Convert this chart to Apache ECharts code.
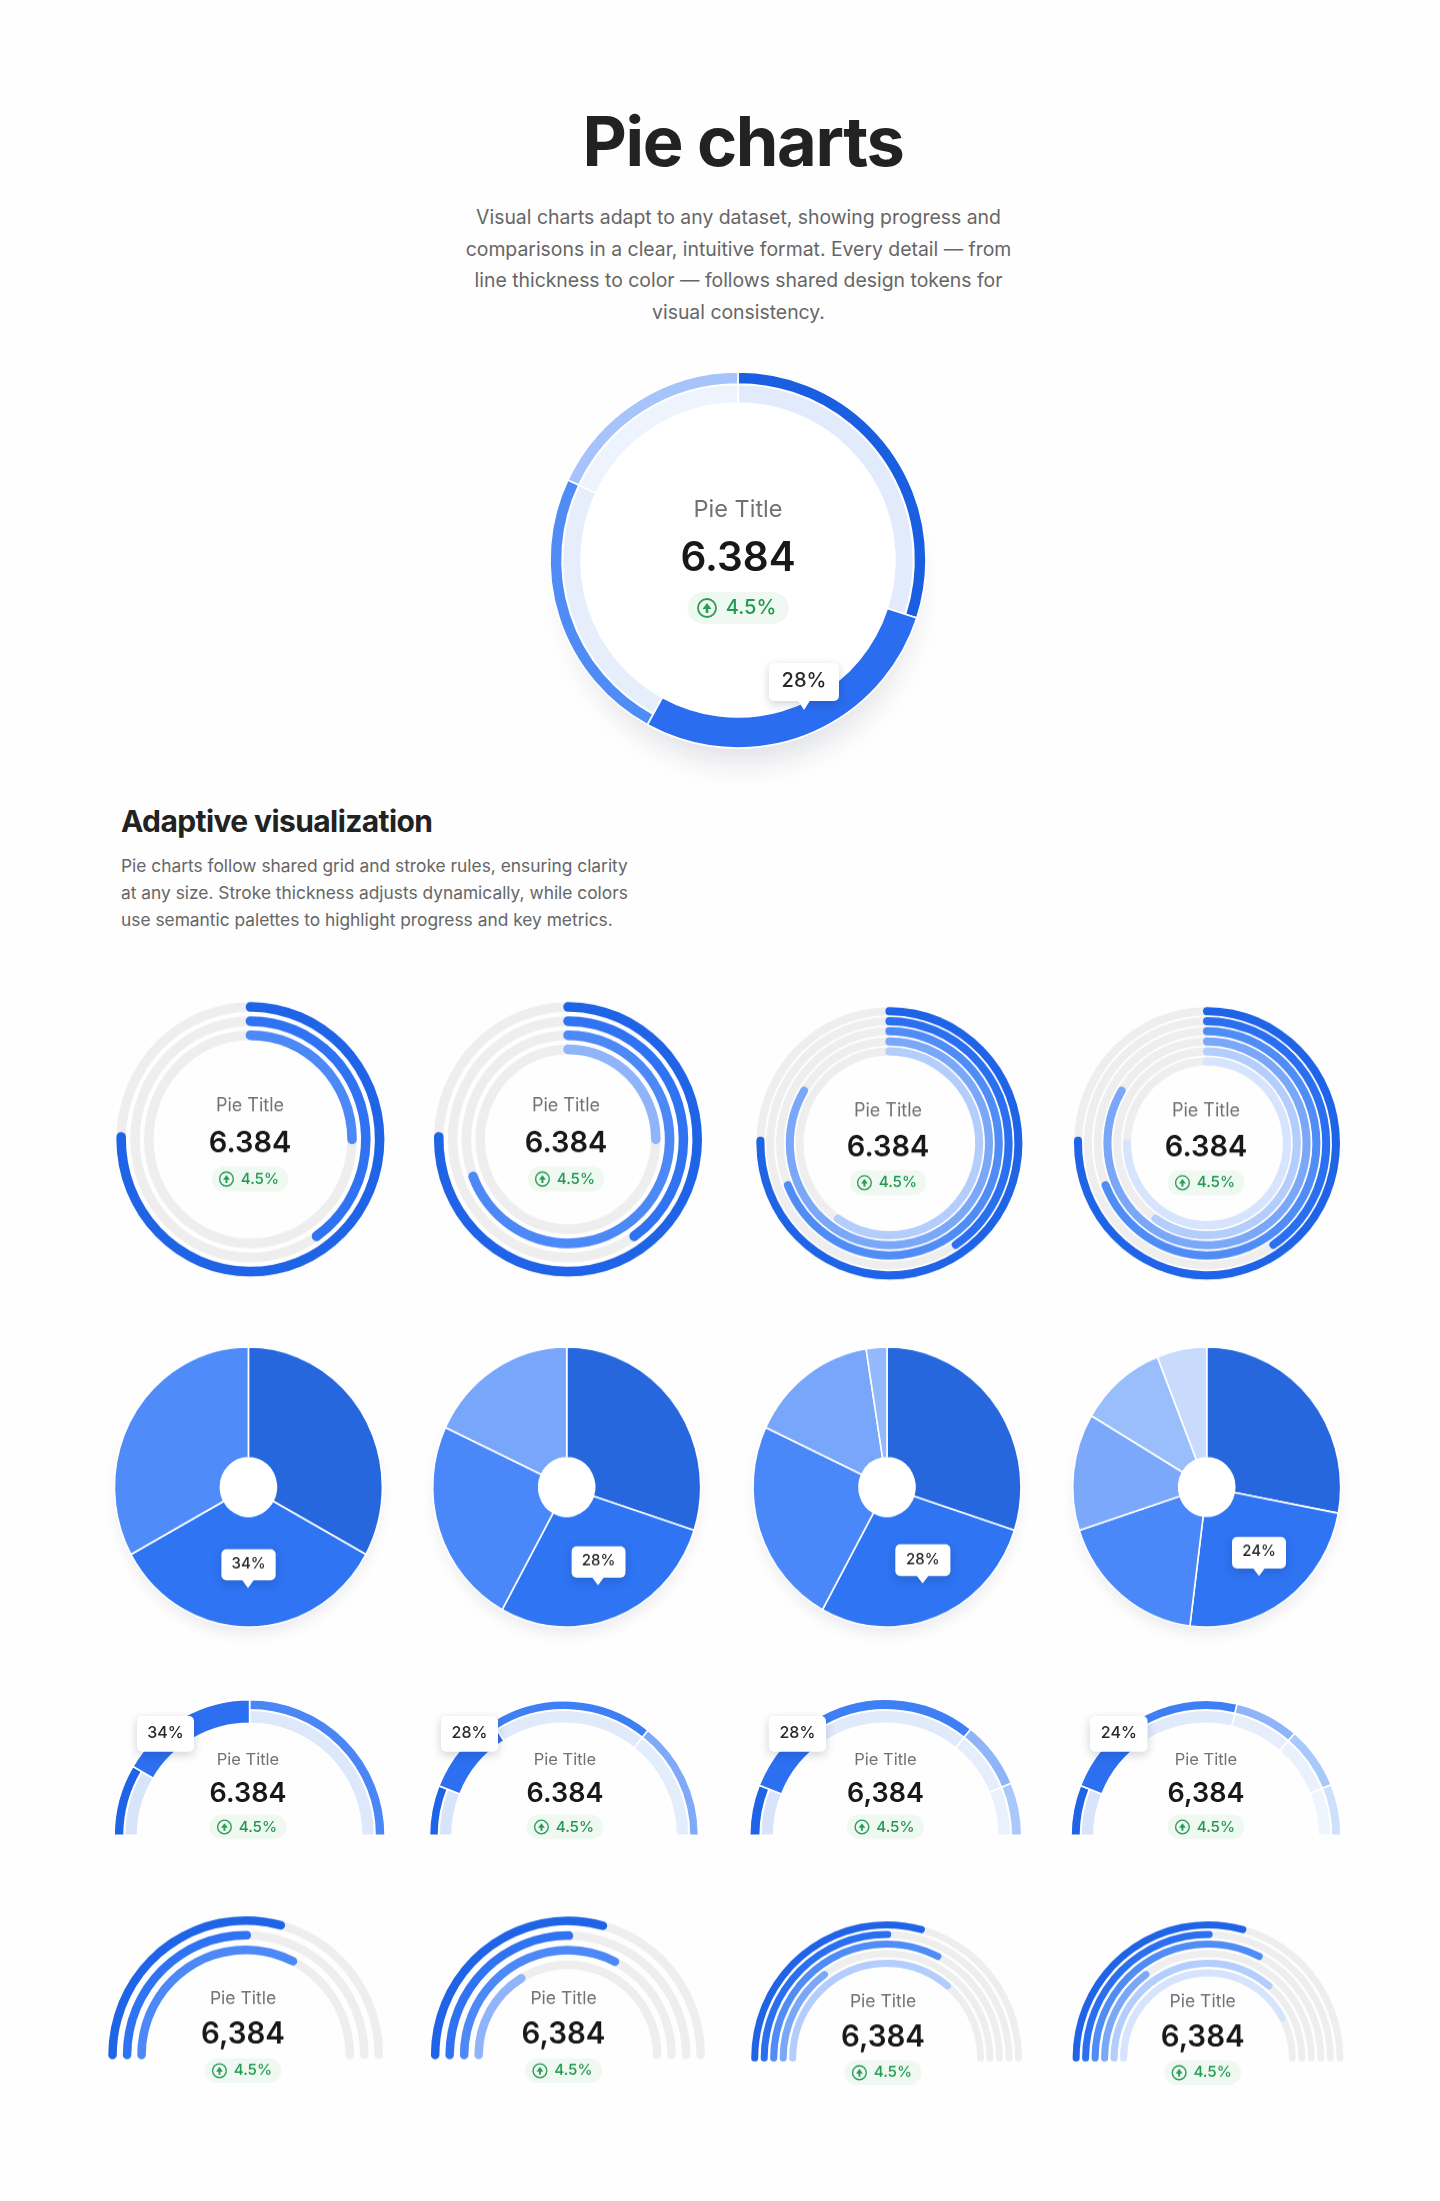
<!DOCTYPE html>
<html><head><meta charset="utf-8">
<script src="https://cdn.jsdelivr.net/npm/echarts@6/dist/echarts.min.js"></script>
<style>
html,body{margin:0;padding:0;background:#fefefe;}
body{width:1440px;height:2201px;position:relative;overflow:hidden;font-family:Inter,sans-serif;}
.t{position:absolute;white-space:nowrap;}
.row{position:absolute;left:0;width:1440px;}
</style></head><body>
<div class="t" style="left:0;width:1486px;text-align:center;top:100px;font-size:68.5px;font-weight:700;line-height:84px;color:#222;letter-spacing:-1.4px">Pie charts</div>
<div class="t" style="left:0;width:1477px;text-align:center;top:202px;font-size:19.4px;line-height:31.7px;color:#666">Visual charts adapt to any dataset, showing progress and<br>comparisons in a clear, intuitive format. Every detail — from<br>line thickness to color — follows shared design tokens for<br>visual consistency.</div>
<div class="t" style="left:121px;top:801px;font-size:30px;font-weight:700;line-height:40px;color:#222;letter-spacing:-.6px">Adaptive visualization</div>
<div class="t" style="left:121px;top:852px;font-size:17.35px;line-height:27px;color:#666">Pie charts follow shared grid and stroke rules, ensuring clarity<br>at any size. Stroke thickness adjusts dynamically, while colors<br>use semantic palettes to highlight progress and key metrics.</div>
<script>
// ---- data ----
const heroValues = [30, 28, 24, 18];
const heroColors = ['#1a5fe2', '#2a6df0', '#4f8cf6', '#a6c4fb'];
const heroPale = ['#e2ebfb', '#2a6df0', '#e6eefc', '#eef4fe'];

const ringColors3 = ['#1f63e6', '#2f73f2', '#4c88f6'];
const ringColors4 = ['#1f63e6', '#2f73f2', '#4c88f6', '#8fb4fa'];
const ringColors5 = ['#1f63e6', '#2a6ff0', '#4f8cf6', '#7ba7f9', '#b3cefc'];
const ringColors6 = ['#1f63e6', '#2a6ff0', '#4f8cf6', '#7ba7f9', '#b3cefc', '#d6e4fe'];
const ringValuesA = [75.3, 40.3, 25];
const ringValuesB = [75.3, 40.3, 69.2, 25];
const ringValuesC = [75.3, 40.6, 68.9, 83.6, 59.7];
const ringValuesD = [75.3, 40.6, 68.9, 83.6, 59.7, 75];

const pieValuesA = [33, 34, 33];
const pieValuesB = [30, 28, 24, 18];
const pieValuesC = [30, 28, 24, 15.5, 2.5];
const pieValuesD = [28, 24, 18, 13.5, 10.5, 6];
const pieColorsA = ['#2767dd', '#2e74f3', '#4f8cf9'];
const pieColorsB = ['#2767dd', '#2e74f3', '#4a87f8', '#78a6fb'];
const pieColorsC = ['#2767dd', '#2e74f3', '#4a87f8', '#78a6fb', '#93b9fc'];
const pieColorsD = ['#2767dd', '#2e74f3', '#4a87f8', '#7ba8fb', '#9abdfc', '#c8dbfd'];

const arcValuesA = [17, 33, 50];
const arcValuesB = [12, 20, 39.5, 28.5];
const arcValuesC = [12, 20, 39.5, 16, 12.5];
const arcValuesD = [12, 20, 25.4, 15.4, 15, 12.2];
const arcColorsA = ['#1f63e6', '#2c6ff0', '#4a86f5'];
const arcColorsB = ['#1f63e6', '#2c6ff0', '#3f7ff5', '#7faaf9'];
const arcColorsC = ['#1f63e6', '#2c6ff0', '#3f7ff5', '#8fb4fa', '#a9c8fb'];
const arcColorsD = ['#1f63e6', '#2c6ff0', '#3f7ff5', '#8fb4fa', '#a9c8fb', '#cfe0fd'];
const arcPaleA = ['#d8e4fa', '#2c6ff0', '#dde8fb'];
const arcPaleB = ['#d8e4fa', '#2c6ff0', '#e0eafb', '#e4edfc'];
const arcPaleC = ['#d8e4fa', '#2c6ff0', '#e0eafb', '#e6eefc', '#eaf1fd'];
const arcPaleD = ['#d8e4fa', '#2c6ff0', '#e0eafb', '#e6eefc', '#eaf1fd', '#eff5fe'];

const halfValuesA = [58.5, 50.3, 65];
const halfValuesB = [58.5, 50.3, 65, 32.5];
const halfValuesC = [58.5, 50.3, 65, 29.5, 72.5];
const halfValuesD = [58.5, 50.3, 65, 29.5, 72.5, 84.5];

const titleText = 'Pie Title';
const deltaText = '4.5%';
// ---- helpers ----
function mount(cy, h, sy, series, graphic) {
  const d = document.createElement('div');
  d.className = 'row';
  d.style.cssText = 'top:' + (cy - h / 2) + 'px;height:' + h + 'px;transform-origin:50% 50%;transform:scaleY(' + sy + ')';
  document.body.appendChild(d);
  echarts.init(d, null, {width: 1440, height: h}).setOption({animation: false, series: series(), graphic: {elements: graphic}});
}
function rowY(cy, h, sy) { return y => h / 2 + (y - cy) / sy; }

function ring(cx, cy, r, w, value, color, semi) {
  return {type: 'gauge', center: [cx, cy], radius: r, min: 0, max: 100, silent: true,
    startAngle: semi ? 180 : 90, endAngle: semi ? 0 : -270,
    pointer: {show: false}, axisTick: {show: false}, splitLine: {show: false}, axisLabel: {show: false},
    anchor: {show: false}, title: {show: false}, detail: {show: false},
    axisLine: {roundCap: !!semi, lineStyle: {width: w, color: [[1, '#eeeeee']]}},
    progress: {show: true, width: w, roundCap: true, itemStyle: {color: color}},
    data: [{value: value}]};
}
function rings(cx, cy, outer, step, w, values, colors, semi) {
  return values.map((v, i) => ring(cx, cy, outer - i * step, w, v, colors[i], semi));
}
function pie(cx, cy, r0, r1, values, colors, semi, emphasisIndex) {
  return {type: 'pie', center: [cx, cy], radius: [r0, r1], silent: true, startAngle: semi ? 180 : 90,
    endAngle: semi ? 360 : 'auto', clockwise: true, label: {show: false}, labelLine: {show: false},
    data: values.map((v, i) => {
      const hidden = emphasisIndex !== undefined && i !== emphasisIndex;
      return {value: v, itemStyle: {color: hidden ? 'rgba(0,0,0,0)' : colors[i],
        borderColor: hidden ? 'rgba(0,0,0,0)' : '#fff', borderWidth: hidden ? 0 : 1.6}};
    })};
}
function twoLayer(cx, cy, rIn, rMid, rOut, values, colors, pale, thick) {
  const semi = rOut < 150;
  return [pie(cx, cy, rIn, rMid, values, pale, semi), pie(cx, cy, rMid + .5, rOut, values, colors, semi),
    pie(cx, cy, rIn, rOut, values, colors, semi, thick)];
}
function backing(cx, cy, r, blur, off, alpha) {
  return {type: 'pie', center: [cx, cy], radius: [0, r], silent: true, label: {show: false}, labelLine: {show: false},
    data: [{value: 1, itemStyle: {color: '#fff', shadowBlur: blur, shadowOffsetY: off, shadowColor: 'rgba(20,30,60,' + alpha + ')'}}]};
}
function text(s, x, y, font, fill) {
  return {type: 'text', z: 100, style: {text: s, x: x, y: y, align: 'center', verticalAlign: 'middle', font: font, fill: fill}};
}
function badge(cx, y, k) {
  const w = 101 * k, h = 32 * k;
  return [
    {type: 'rect', z: 99, shape: {x: cx - w / 2, y: y - h / 2, width: w, height: h, r: h / 2}, style: {fill: '#eff8f1'}},
    {type: 'circle', z: 100, shape: {cx: cx - 31 * k, cy: y, r: 9 * k}, style: {fill: 'none', stroke: '#2a9d57', lineWidth: 1.8 * k}},
    {type: 'polygon', z: 100, shape: {points: [[cx - 31 * k, y - 5 * k], [cx - 26.5 * k, y + 1 * k], [cx - 29.7 * k, y + 1 * k], [cx - 29.7 * k, y + 5 * k], [cx - 32.3 * k, y + 5 * k], [cx - 32.3 * k, y + 1 * k], [cx - 35.5 * k, y + 1 * k]]}, style: {fill: '#2a9d57'}},
    text(deltaText, cx + 13 * k, y, '500 ' + 20 * k + 'px Inter', '#1f9a50')
  ];
}
function center(cx, yT, yV, yB, valueText, fT, fV, k) {
  return [text(titleText, cx, yT, '400 ' + fT + 'px Inter', '#6f7175'),
    text(valueText, cx, yV, '600 ' + fV + 'px Inter', '#17181a')].concat(badge(cx, yB, k));
}
function tip(x0, y0, x1, y1, tipX, tipY, s, font) {
  const els = [{type: 'rect', z: 98, shape: {x: x0, y: y0, width: x1 - x0, height: y1 - y0, r: 5},
    style: {fill: '#fff', shadowBlur: 10, shadowOffsetY: 3, shadowColor: 'rgba(20,30,60,.2)'}}];
  if (tipX !== null) els.push({type: 'polygon', z: 99, shape: {points: [[tipX - 6, y1 - .5], [tipX + 6, y1 - .5], [tipX, tipY]]}, style: {fill: '#fff'}});
  els.push(text(s, (x0 + x1) / 2, (y0 + y1) / 2 - 1, '500 ' + font + 'px Inter', '#26282b'));
  return els;
}
// ---- hero ----
(function () {
  const cy = 560, h = 480, sy = 1, Y = rowY(cy, h, sy);
  mount(cy, h, sy, () => [backing(742, Y(560), 172, 30, 30, .13)].concat(
    twoLayer(738, Y(560), 157, 175.5, 188, heroValues, heroColors, heroPale, 1)),
    center(738, Y(510), Y(559), Y(608), '6.384', 23.5, 40.5, 1).concat(
      tip(769, Y(663), 839, Y(701), 804, Y(710), '28%', 20)));
})();
// ---- concentric rings ----
(function () {
  const cy = 1141, h = 320, sy = 1.024, Y = rowY(cy, h, sy);
  mount(cy, h, sy, () => [].concat(
    rings(250.4, Y(1139.3), 134, 13.8, 9.5, ringValuesA, ringColors3),
    rings(568, Y(1139.3), 134, 13.8, 9.5, ringValuesB, ringColors4),
    rings(889.4, Y(1143.3), 133, 9.8, 8, ringValuesC, ringColors5),
    rings(1207, Y(1143.3), 133, 9.8, 8, ringValuesD, ringColors6)),
    [].concat(
      center(250, Y(1106), Y(1143), Y(1179), '6.384', 18, 29, .76),
      center(566, Y(1106), Y(1143), Y(1179), '6.384', 18, 29, .76),
      center(888, Y(1110.7), Y(1147), Y(1182.7), '6.384', 18, 29, .76),
      center(1206, Y(1110.7), Y(1147), Y(1182.7), '6.384', 18, 29, .76)));
})();
// ---- filled pies ----
(function () {
  const cy = 1486.7, h = 330, sy = 1.045, Y = rowY(cy, h, sy), c = Y(1486.7);
  const one = (x, vals, cols) => [backing(x, c, 130, 16, 9, .1), pie(x, c, 28, 134, vals, cols)];
  mount(cy, h, sy, () => [].concat(
    one(248.4, pieValuesA, pieColorsA), one(566.7, pieValuesB, pieColorsB),
    one(887, pieValuesC, pieColorsC), one(1206.7, pieValuesD, pieColorsD)),
    [].concat(
      tip(221.4, Y(1549), 275.7, Y(1580), 248, Y(1587.7), '34%', 15),
      tip(571.6, Y(1546), 625.5, Y(1577.3), 598, Y(1585), '28%', 15),
      tip(895.3, Y(1544), 950.4, Y(1575.7), 922.6, Y(1583), '28%', 15),
      tip(1232, Y(1536.7), 1286, Y(1568.3), 1259, Y(1575.7), '24%', 15)));
})();
// ---- half doughnuts ----
(function () {
  const cy = 1770, h = 180, sy = 1, Y = rowY(cy, h, sy), c = Y(1835.3);
  mount(cy, h, sy, () => [].concat(
    twoLayer(249.6, c, 112, 125, 135.5, arcValuesA, arcColorsA, arcPaleA, 1),
    twoLayer(564, c, 112, 125, 134.5, arcValuesB, arcColorsB, arcPaleB, 1),
    twoLayer(885.7, c, 112, 125, 136, arcValuesC, arcColorsC, arcPaleC, 1),
    twoLayer(1206, c, 112, 125, 135, arcValuesD, arcColorsD, arcPaleD, 1)),
    [].concat(
      center(248, Y(1760), Y(1793.7), Y(1827), '6.384', 16.5, 27, .76),
      center(565, Y(1760), Y(1793.7), Y(1827), '6.384', 16.5, 27, .76),
      center(885.5, Y(1760), Y(1793.7), Y(1827), '6,384', 16.5, 27, .76),
      center(1206, Y(1760), Y(1793.7), Y(1827), '6,384', 16.5, 27, .76),
      tip(137, Y(1716), 194, Y(1751.7), null, null, '34%', 16),
      tip(441, Y(1716), 498, Y(1751.7), null, null, '28%', 16),
      tip(768.8, Y(1716), 826, Y(1751.7), null, null, '28%', 16),
      tip(1090, Y(1716), 1147.6, Y(1751.7), null, null, '24%', 16)));
})();
// ---- half rings ----
(function () {
  const cy = 1990, h = 200, sy = 1.01, Y = rowY(cy, h, sy);
  mount(cy, h, sy, () => [].concat(
    rings(245.7, Y(2055), 137.4, 14.5, 8.5, halfValuesA, ringColors3, true),
    rings(567.9, Y(2055), 137, 14.5, 8.5, halfValuesB, ringColors4, true),
    rings(886.6, Y(2058), 135.4, 9.5, 7, halfValuesC, ringColors5, true),
    rings(1208, Y(2058), 135.4, 9.5, 7, halfValuesD, ringColors6, true)),
    [].concat(
      center(243, Y(1999), Y(2035), Y(2070.7), '6,384', 17.5, 29.5, .76),
      center(563.5, Y(1999), Y(2035), Y(2070.7), '6,384', 17.5, 29.5, .76),
      center(883, Y(2001.7), Y(2037.7), Y(2072.7), '6,384', 17.5, 29.5, .76),
      center(1202.7, Y(2001.7), Y(2037.7), Y(2072.7), '6,384', 17.5, 29.5, .76)));
})();
</script>
</body></html>
